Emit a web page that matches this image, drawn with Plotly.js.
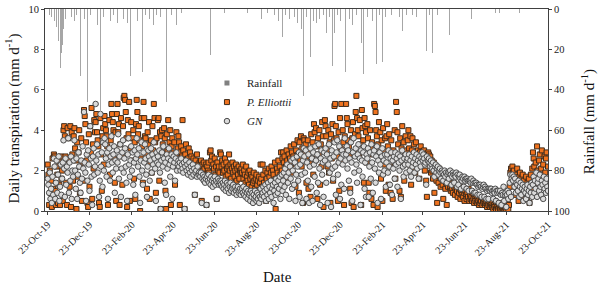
<!DOCTYPE html>
<html><head><meta charset="utf-8">
<script src="https://cdn.plot.ly/plotly-3.0.1.min.js"></script>
<style>html,body{margin:0;padding:0;background:#fff}#chart{width:600px;height:286px}</style>
</head><body><div id="chart"></div>
<script>
// ---- DATA ----
const monthStarts = ['2019-10-23','2019-11-01','2019-12-01','2020-01-01','2020-02-01','2020-03-01','2020-04-01','2020-05-01','2020-06-01','2020-07-01','2020-08-01','2020-09-01','2020-10-01','2020-11-01','2020-12-01','2021-01-01','2021-02-01','2021-03-01','2021-04-01','2021-05-01','2021-06-01','2021-07-01','2021-08-01','2021-09-01','2021-10-01'];

// P. Elliottii daily transpiration (mm/d), one row per month
const peMonthly = [
[2.3,1.8,0.3,2.0,0.9,1.5,0.2,2.6,1.1],
[2.8,2.7,1.0,0.3,2.2,1.8,0.4,2.5,1.3,0.3,2.7,1.6,2.0,0.5,4.0,4.2,3.7,2.7,1.4,0.3,4.1,3.6,2.5,1.2,4.2,0.2,3.9,2.8,1.5,3.7],
[4.1,3.1,2.5,0.1,3.4,1.7,2.9,4.0,0.9,2.2,3.6,0.5,2.4,1.5,5.0,4.7,4.3,3.4,2.5,0.4,0.2,3.8,1.2,4.2,2.9,5.1,0.6,3.3,2.1,4.5,3.9],
[4.4,4.8,3.9,3.5,3.2,0.4,0.2,4.6,2.8,1.0,3.7,4.1,2.3,4.7,4.3,4.0,3.7,3.2,0.3,2.7,4.5,1.8,3.5,5.3,4.8,4.4,4.0,2.6,1.4,3.9,0.5],
[4.8,5.3,3.9,4.3,0.3,3.3,4.6,2.7,1.3,4.2,5.6,5.7,5.5,4.9,3.6,0.2,4.5,3.8,5.4,0.5,3.1,4.4,2.5,3.6,4.0,1.6,3.4,0.6,4.3],
[5.5,4.9,3.8,4.2,3.5,0.0,2.6,4.6,3.2,1.4,5.4,4.6,3.7,3.6,2.8,1.1,3.9,3.3,4.4,0.6,2.4,3.5,1.9,4.2,3.0,5.3,4.6,3.4,0.9,3.6,2.7],
[4.5,4.6,1.5,3.9,0.1,3.7,4.0,3.3,2.9,4.1,3.6,1.0,0.1,3.8,3.0,4.5,2.7,3.4,4.0,0.3,3.2,3.6,2.5,2.9,3.4,1.3,2.8,3.9,2.4,3.1],
[3.7,3.4,0.3,2.9,3.2,2.7,4.5,3.0,2.5,0.1,2.8,3.3,2.4,2.2,2.6,3.1,2.0,2.9,2.3,2.7,1.8,2.4,2.6,2.1,0.8,2.5,2.2,2.8,1.9,2.3,2.0],
[2.4,2.2,2.5,0.5,2.3,2.0,2.4,2.1,1.8,2.3,0.3,2.2,2.0,2.4,1.9,2.9,3.0,2.5,2.7,1.7,2.3,2.1,2.6,1.8,2.2,0.6,2.4,2.0,2.2,1.9],
[2.9,2.8,2.2,2.5,1.9,2.3,2.0,2.6,1.7,2.4,2.1,1.8,2.2,2.8,2.0,2.3,1.6,2.1,2.4,1.9,2.2,1.7,2.0,2.3,1.5,2.1,1.8,2.2,1.6,2.0,1.9],
[2.1,1.9,2.3,1.6,2.0,1.8,1.4,2.2,1.7,1.5,1.9,1.3,2.0,1.6,1.8,1.2,1.7,1.4,1.9,1.5,1.1,1.6,1.8,1.3,1.5,0.9,1.7,1.4,2.3,1.6,1.2],
[2.3,1.8,1.4,1.1,2.0,0.5,1.6,1.9,1.3,2.1,1.7,0.8,1.9,2.2,1.5,2.0,1.8,1.2,2.4,0.1,1.6,2.1,1.9,2.5,1.4,2.2,1.8,2.9,2.0,2.6],
[2.9,2.4,2.7,1.8,2.2,3.0,2.5,1.5,2.8,2.0,2.6,3.2,2.3,2.9,1.9,2.7,3.3,2.4,1.2,3.0,2.6,3.5,2.8,0.9,3.4,2.5,3.7,2.2,3.1,0.4,3.6],
[3.5,2.9,3.3,1.4,2.7,3.5,1.1,3.0,2.4,0.7,3.8,2.6,3.4,1.8,4.3,3.9,2.5,4.1,3.2,0.6,3.6,2.8,4.0,1.3,3.3,2.2,4.4,3.7,0.2,3.0],
[4.5,4.2,3.7,3.0,2.2,4.0,1.9,3.4,0.4,3.8,2.6,4.3,1.5,3.5,5.2,5.3,4.2,3.6,2.7,0.5,3.9,1.0,4.6,3.1,5.3,2.4,4.0,3.4,0.3,3.7,2.9],
[5.3,4.6,4.3,3.5,3.2,2.7,1.1,4.0,0.4,3.6,4.4,0.2,2.9,3.8,4.9,5.7,4.6,4.0,3.7,2.7,4.5,3.3,0.3,5.0,4.1,3.5,1.4,4.6,4.2,3.9,2.4],
[4.3,3.6,1.4,0.9,4.0,3.1,0.6,3.4,2.8,0.3,5.3,5.2,4.9,4.0,3.7,0.2,3.3,4.4,2.9,3.9,1.6,3.5,0.5,4.1,3.0,2.3,3.6,1.0],
[3.7,4.3,3.2,1.3,3.8,2.2,0.9,3.5,2.8,0.6,3.0,2.5,4.0,1.6,5.4,4.9,3.9,3.3,2.7,1.0,3.6,0.7,3.1,4.2,2.4,3.4,1.5,2.9,3.7,2.6,3.0],
[3.5,4.0,3.1,2.3,3.7,1.3,3.0,3.6,2.1,3.3,2.5,1.9,3.4,2.8,2.2,3.0,2.6,1.6,2.9,3.2,2.4,2.8,2.7,2.9,3.0,2.0,2.8,1.5,0.7,2.6],
[2.9,2.8,2.3,2.7,1.9,2.5,2.0,1.6,2.4,0.9,1.8,2.2,1.5,0.4,1.9,1.4,2.1,1.7,1.2,1.6,1.9,1.3,0.6,1.5,1.7,1.1,1.4,0.3,1.6,1.2,1.5],
[1.4,1.2,1.0,1.3,1.1,0.9,1.4,1.2,0.8,1.1,1.3,1.0,0.7,1.2,0.9,1.1,0.6,1.0,0.8,1.2,0.7,0.9,0.5,1.0,0.8,0.6,0.9,0.7,1.1,0.5],
[0.8,0.6,0.7,0.5,0.9,0.6,0.4,0.7,0.5,0.8,0.4,0.6,0.5,0.3,0.6,0.4,0.5,0.7,0.3,0.5,0.4,0.6,0.3,0.4,0.5,0.2,0.4,0.3,0.5,0.2,0.4],
[0.3,0.2,0.4,0.1,0.3,0.2,0.5,0.1,0.3,0.2,0.1,0.4,0.2,0.1,0.3,0.1,0.2,0.0,0.3,0.1,0.2,0.1,0.0,0.2,0.4,0.1,0.3,1.2,1.9,2.1,1.6],
[2.2,1.9,2.0,1.5,1.2,0.8,1.8,2.1,1.4,0.5,1.7,1.9,1.1,1.6,0.7,1.8,1.3,1.5,0.9,1.2,1.7,0.6,1.4,1.0,1.6,0.4,1.3,1.8,1.1,2.1],
[2.9,2.6,2.2,1.7,2.4,1.4,3.2,2.0,1.1,2.5,2.8,1.6,2.1,3.0,1.8,2.3,1.3,2.7,1.9,2.6,2.9,1.5,2.2]
];

// GN daily transpiration (mm/d), one row per month
const gnMonthly = [
[1.6,1.3,0.9,1.9,0.6,1.1,0.4,1.7,0.8],
[2.6,2.2,0.6,1.4,2.5,0.9,1.8,2.7,0.5,1.2,2.3,0.8,1.6,2.4,3.5,2.1,0.7,2.6,1.3,2.2,1.9,3.6,0.9,2.4,1.5,2.7,0.6,2.0,1.7,2.5],
[3.5,2.0,1.1,2.6,0.6,1.8,2.9,2.2,1.4,0.9,2.5,1.6,3.2,2.1,4.9,2.4,1.9,0.5,2.8,1.5,3.0,2.3,1.0,4.2,2.6,1.7,0.3,2.7,3.1,1.8,2.2],
[5.3,2.5,3.3,1.9,2.8,0.7,1.5,4.8,2.2,2.9,1.2,3.4,2.0,3.6,3.3,2.6,1.7,2.9,0.6,2.3,3.1,1.5,2.7,3.7,2.4,1.9,2.8,3.2,0.9,2.5,2.1],
[3.0,2.4,3.8,1.6,2.7,3.3,0.7,2.1,2.9,3.5,1.9,2.6,3.1,2.2,1.4,0.5,2.8,3.6,2.3,1.7,2.5,3.2,2.0,2.9,1.3,2.4,3.0,0.8,2.6],
[3.6,2.8,2.2,3.1,1.7,0.4,2.5,3.4,2.0,1.3,2.9,2.4,3.3,2.6,1.8,0.7,2.2,3.0,2.7,1.5,2.5,3.1,1.9,2.8,2.3,3.4,2.6,2.1,0.5,2.9,2.4],
[2.7,2.3,3.0,1.9,0.1,2.5,2.9,2.2,3.2,2.6,1.4,2.4,0.8,2.8,2.1,2.6,3.1,2.3,1.7,2.5,2.8,0.6,2.2,2.7,2.4,1.5,2.6,2.9,2.0,2.3],
[2.5,2.2,2.4,2.0,2.6,2.3,2.1,1.9,2.4,0.1,2.2,2.5,2.0,2.3,1.8,2.1,2.4,1.9,2.2,1.7,2.0,2.3,1.8,2.1,0.8,1.9,2.0,1.7,2.2,1.8,1.9],
[1.8,1.7,1.9,0.4,1.6,1.8,1.5,1.7,1.4,1.6,0.3,1.7,1.5,1.8,1.4,1.6,1.3,1.7,1.5,1.2,1.6,1.4,1.7,1.3,1.5,0.6,1.4,1.6,1.3,1.5],
[1.4,1.3,1.5,1.2,1.4,1.1,1.3,1.5,1.0,1.2,1.4,1.1,1.3,0.9,1.2,1.4,1.0,1.2,1.1,1.3,0.9,1.1,1.2,1.0,0.8,1.1,1.2,0.9,1.0,1.1,0.8],
[1.0,1.1,0.9,1.2,0.8,1.0,0.7,1.1,0.9,0.6,1.0,0.8,0.9,0.5,1.0,0.7,0.9,0.4,0.8,0.6,1.0,0.7,0.5,0.9,0.6,0.8,0.4,0.7,1.1,0.6,0.8],
[0.9,1.2,0.7,1.0,1.3,0.5,1.1,0.8,1.4,0.6,1.2,0.9,1.5,0.7,1.1,1.3,0.4,1.0,1.4,0.8,1.6,1.2,0.9,1.5,1.1,1.7,0.6,1.3,1.8,1.0],
[1.5,1.9,1.2,2.1,0.8,1.7,2.3,1.4,1.9,0.6,2.2,1.6,2.5,1.1,2.0,2.6,1.3,2.4,0.5,1.8,2.7,2.2,1.5,2.9,0.7,2.3,2.8,1.8,0.4,2.5,3.1],
[2.7,1.9,3.0,0.6,2.4,1.5,2.8,0.4,2.2,3.1,1.2,2.6,0.5,2.9,2.3,1.7,3.2,2.5,0.9,2.8,1.4,3.3,2.1,0.3,2.6,3.0,1.8,2.4,0.7,2.9],
[2.5,3.1,1.4,2.8,0.4,2.3,3.3,1.9,2.6,0.2,3.0,2.1,1.6,2.7,3.4,2.2,0.8,2.9,3.5,1.8,2.4,3.2,0.6,2.6,1.3,3.0,2.3,2.8,1.1,3.6,2.5],
[2.8,3.2,2.1,3.0,1.5,2.6,0.9,3.4,2.4,0.5,2.9,3.6,1.9,2.7,3.1,2.3,1.4,2.8,3.3,2.0,2.6,0.3,3.0,2.5,1.7,2.9,3.2,1.1,2.4,0.7,2.8],
[2.6,3.1,0.7,2.2,2.9,1.6,3.3,2.4,0.9,2.8,3.0,2.1,1.4,2.7,3.2,0.4,2.5,1.9,2.9,2.3,0.6,2.7,3.1,1.8,2.5,2.0,2.8,1.2],
[2.4,2.8,1.9,3.0,2.2,1.3,2.6,2.9,0.8,2.5,2.1,2.7,1.6,2.9,2.3,2.6,1.2,2.8,2.4,2.0,2.7,0.6,2.5,3.0,2.2,1.7,2.6,2.3,2.8,1.9,2.5],
[2.6,2.3,2.8,2.0,2.5,1.7,2.7,2.2,2.4,2.9,1.9,2.6,2.3,2.8,2.1,2.5,1.6,2.7,2.4,2.2,2.6,2.9,2.5,2.8,2.6,2.3,2.4,1.3,2.7,2.5],
[2.5,2.6,2.4,2.2,2.5,2.3,2.1,2.4,2.0,1.7,2.2,2.3,1.9,2.1,2.2,1.8,2.0,2.1,1.9,1.6,2.0,1.9,1.5,1.8,2.0,1.7,1.9,1.4,1.8,1.9,1.6],
[1.9,2.0,1.8,1.3,1.7,1.9,1.8,1.4,1.8,1.7,1.9,1.2,1.8,1.3,1.7,1.8,1.6,1.1,1.5,1.7,1.6,1.2,1.7,1.5,1.6,1.1,1.6,1.5,1.0,1.5],
[1.5,1.4,1.6,1.0,1.4,1.5,0.9,1.4,0.9,1.4,1.3,0.8,1.2,1.3,0.8,1.3,1.2,0.7,1.1,1.2,1.3,0.7,1.2,1.1,0.6,1.0,1.1,0.6,1.1,1.0,1.1],
[1.1,0.9,1.0,0.6,1.0,0.9,1.1,0.5,1.0,0.9,1.0,0.4,0.9,1.0,0.8,0.3,0.9,0.8,1.2,0.5,0.8,0.9,0.2,0.8,1.0,0.6,0.9,1.4,1.8,0.7,1.6],
[1.8,1.5,1.7,1.2,1.6,0.9,1.4,1.3,1.0,1.5,0.7,1.2,1.4,0.8,1.1,1.3,0.5,1.0,1.2,0.9,0.6,1.1,1.3,0.8,1.0,0.4,1.2,0.9,1.4,0.7],
[1.3,1.7,0.9,1.5,1.1,1.9,0.7,1.4,1.6,1.0,1.8,1.2,0.8,1.5,1.3,0.6,1.7,1.1,1.4,0.9,1.6,1.2,1.0]
];

// Rainfall events (mm/d)
const rainDates = ['2019-10-26','2019-10-29','2019-11-02','2019-11-05','2019-11-08','2019-11-11','2019-11-12','2019-11-14','2019-11-15','2019-11-18','2019-11-23','2019-11-27','2019-12-01','2019-12-04','2019-12-09','2019-12-10','2019-12-12','2019-12-16','2019-12-20','2019-12-25','2019-12-31','2020-01-04','2020-01-08','2020-01-13','2020-01-19','2020-01-23','2020-01-27','2020-02-02','2020-02-07','2020-02-11','2020-02-17','2020-02-21','2020-02-26','2020-03-02','2020-03-10','2020-03-14','2020-03-20','2020-03-26','2020-03-30','2020-04-05','2020-04-14','2020-04-21','2020-04-28','2020-05-05','2020-06-17','2020-07-07','2020-08-10','2020-08-30','2020-09-08','2020-09-18','2020-09-24','2020-09-30','2020-10-04','2020-10-10','2020-10-18','2020-10-22','2020-10-28','2020-10-31','2020-11-04','2020-11-10','2020-11-14','2020-11-19','2020-11-23','2020-11-29','2020-12-03','2020-12-08','2020-12-12','2020-12-15','2020-12-19','2020-12-24','2020-12-31','2021-01-06','2021-01-10','2021-01-16','2021-01-23','2021-01-26','2021-02-01','2021-02-08','2021-02-14','2021-02-19','2021-02-23','2021-02-27','2021-03-08','2021-03-15','2021-03-20','2021-03-24','2021-03-30','2021-04-03','2021-04-08','2021-04-14','2021-04-22','2021-04-28','2021-05-03','2021-05-07','2021-05-14','2021-06-01','2021-07-03','2021-08-07','2021-08-13','2021-08-27','2021-09-11'];
const rainMM = [3,4,6,9,16,29,22,18,10,5,12,4,6,3,16,33,12,5,46,3,6,8,51,4,25,6,3,7,27,5,7,33,4,6,31,3,5,8,3,4,46,3,8,2,23,2,2,5,2,3,6,14,3,5,4,7,10,43,4,24,6,7,5,3,12,4,28,12,3,6,31,5,8,3,17,32,4,6,27,3,26,4,3,13,4,11,3,5,3,4,15,21,3,22,3,13,5,2,2,10,2];

const tickDates = ['2019-10-23','2019-12-23','2020-02-23','2020-04-23','2020-06-23','2020-08-23','2020-10-23','2020-12-23','2021-02-23','2021-04-23','2021-06-23','2021-08-23','2021-10-23'];
const tickLabels = ['23-Oct-19','23-Dec-19','23-Feb-20','23-Apr-20','23-Jun-20','23-Aug-20','23-Oct-20','23-Dec-20','23-Feb-21','23-Apr-21','23-Jun-21','23-Aug-21','23-Oct-21'];

// ---- build daily series ----
function expand(starts, rows){
  const x=[], y=[];
  rows.forEach((row,m)=>{
    const base = Date.parse(starts[m]+'T00:00:00Z');
    row.forEach((v,i)=>{ x.push(new Date(base+i*864e5).toISOString().slice(0,10)); y.push(v); });
  });
  return {x,y};
}
const pe = expand(monthStarts, peMonthly);
const gn = expand(monthStarts, gnMonthly);

const FONT = '"Liberation Serif", "Times New Roman", serif';
const traces = [
  {type:'bar', x:rainDates, y:rainMM, yaxis:'y2', name:'Rainfall', showlegend:false,
   width:86400000*1.1, marker:{color:'#a6a6a6', line:{width:0}}},
  {type:'scatter', mode:'markers', x:[null], y:[null], name:'Rainfall', legendrank:1,
   marker:{symbol:'square', size:5, color:'#808080'}},
  {type:'scatter', mode:'markers', x:pe.x, y:pe.y, name:'<i>P. Elliottii</i>', legendrank:2,
   marker:{symbol:'square', size:5, color:'#F0731F', line:{color:'#3d2a1a', width:1}}},
  {type:'scatter', mode:'markers', x:gn.x, y:gn.y, name:'<i>GN</i>', legendrank:3,
   marker:{symbol:'circle', size:5.5, color:'#dadada', line:{color:'#4a4a4a', width:1}}}
];

const layout = {
  width:600, height:286,
  margin:{l:45, r:52, t:9, b:75},
  paper_bgcolor:'#fff', plot_bgcolor:'#fff',
  font:{family:FONT, color:'#222', size:10},
  showlegend:true,
  legend:{x:0.322, y:0.705, xanchor:'left', yanchor:'top', bgcolor:'rgba(0,0,0,0)',
          font:{family:FONT, size:11, color:'#222'}, tracegroupgap:0, itemwidth:30},
  bargap:0,
  xaxis:{type:'date', range:['2019-10-19','2021-10-23'], tickvals:tickDates, ticktext:tickLabels,
         tickangle:-45, showgrid:false, zeroline:false, showline:true, linecolor:'#404040', linewidth:1,
         mirror:true, ticks:'outside', ticklen:3, tickcolor:'#404040',
         tickfont:{family:FONT, size:10, color:'#222'}},
  yaxis:{range:[0,10], dtick:2, showgrid:false, zeroline:false, showline:true, linecolor:'#404040',
         linewidth:1, ticks:'outside', ticklen:3, tickcolor:'#404040',
         tickfont:{family:FONT, size:10.5, color:'#222'}},
  yaxis2:{overlaying:'y', side:'right', range:[100,0], dtick:20, showgrid:false, zeroline:false,
         showline:true, linecolor:'#404040', linewidth:1, ticks:'outside', ticklen:3, tickcolor:'#404040',
         tickfont:{family:FONT, size:10.5, color:'#222'}},
  annotations:[
    {text:'Date', xref:'paper', yref:'paper', x:0.463, y:-0.327, xanchor:'center', yanchor:'middle',
     showarrow:false, font:{family:FONT, size:15, color:'#111'}},
    {text:'Daily transpiration (mm d<sup>-1</sup>)', xref:'paper', yref:'paper', x:-0.065, y:0.46,
     xanchor:'center', yanchor:'middle', textangle:-90, showarrow:false, font:{family:FONT, size:15, color:'#111'}},
    {text:'Rainfall (mm d<sup>-1</sup>)', xref:'paper', yref:'paper', x:1.08, y:0.44,
     xanchor:'center', yanchor:'middle', textangle:-90, showarrow:false, font:{family:FONT, size:15, color:'#111'}}
  ]
};

Plotly.newPlot('chart', traces, layout, {displayModeBar:false, staticPlot:true});
</script>
</body></html>
